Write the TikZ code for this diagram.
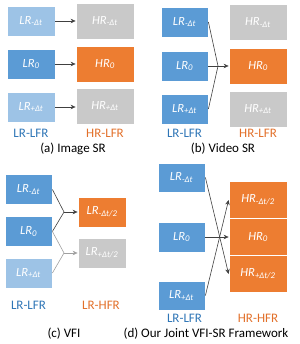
\documentclass[tikz,border=0pt]{standalone}
\usepackage{fontspec}
\setmainfont{Carlito}
\usepackage{tikz}
\usetikzlibrary{arrows.meta}
\definecolor{lrColor}{HTML}{5B9BD5}
\definecolor{lrLightColor}{HTML}{9DC3E6}
\definecolor{hrColor}{HTML}{ED7D31}
\definecolor{emptyColor}{HTML}{C9C9C9}
\definecolor{lineColor}{HTML}{404040}
\definecolor{lineLightColor}{HTML}{A0A0A0}
\definecolor{lfrTextColor}{HTML}{2E75B6}
\definecolor{hfrTextColor}{HTML}{E2702A}

\tikzset{
  frame/.style={rectangle, inner sep=0pt, draw=white, line width=0.8pt, text=white,
    font=\fontsize{12.5}{14}\selectfont\itshape},
  lrbox/.style={frame, minimum width=47pt, minimum height=30pt},
  hrbox/.style={frame, minimum width=58pt, minimum height=36pt},
  flow/.style={draw=lineColor, line width=0.6pt},
  flowarrow/.style={flow, -{Stealth[length=5pt,width=4.5pt]}},
  caption/.style={font=\fontsize{13}{15}\selectfont},
}

\begin{document}
\begin{tikzpicture}[x=1pt, y=-1pt]
  \useasboundingbox (0,0) rectangle (299,344);

  % (a) Image SR
  \node[lrbox, fill=lrLightColor, minimum width=48pt] (aLm) at (31,21) {LR\textsubscript{-Δt}};
  \node[lrbox, fill=lrColor, minimum width=48pt] (aLz) at (31,64) {LR\textsubscript{0}};
  \node[lrbox, fill=lrLightColor, minimum width=48pt] (aLp) at (31,107) {LR\textsubscript{+Δt}};
  \node[hrbox, fill=emptyColor] (aHm) at (105,21) {HR\textsubscript{-Δt}};
  \node[hrbox, fill=hrColor] (aHz) at (105,64) {HR\textsubscript{0}};
  \node[hrbox, fill=emptyColor] (aHp) at (105,106) {HR\textsubscript{+Δt}};
  \draw[flowarrow] (aLm) -- (aHm);
  \draw[flowarrow] (aLz) -- (aHz);
  \draw[flowarrow] (aLp.east) -- (aLp.east -| aHp.west);
  \node[caption, text=lfrTextColor] (aIn) at (31,133) {LR-LFR};
  \node[caption, text=hfrTextColor] (aOut) at (105,133) {HR-LFR};
  \node[caption] (aCap) at (73,149) {(a) Image SR};

  % (b) Video SR
  \node[lrbox, fill=lrColor] (bLm) at (184.5,22) {LR\textsubscript{-Δt}};
  \node[lrbox, fill=lrColor] (bLz) at (184.5,66) {LR\textsubscript{0}};
  \node[lrbox, fill=lrColor] (bLp) at (184.5,109) {LR\textsubscript{+Δt}};
  \node[hrbox, fill=emptyColor] (bHm) at (258,22.5) {HR\textsubscript{-Δt}};
  \node[hrbox, fill=hrColor] (bHz) at (258,66) {HR\textsubscript{0}};
  \node[hrbox, fill=emptyColor] (bHp) at (258,109) {HR\textsubscript{+Δt}};
  \coordinate (bJ) at (218,66);
  \draw[flow] (bLm.east) -- (bJ);
  \draw[flow] (bLp.east) -- (bJ);
  \draw[flowarrow] (bLz) -- (bHz);
  \node[caption, text=lfrTextColor] (bIn) at (184.5,133) {LR-LFR};
  \node[caption, text=hfrTextColor] (bOut) at (258,133) {HR-LFR};
  \node[caption] (bCap) at (223,149) {(b) Video SR};

  % (c) VFI
  \node[lrbox, fill=lrColor] (cLm) at (28.5,189.5) {LR\textsubscript{-Δt}};
  \node[lrbox, fill=lrColor] (cLz) at (28.5,231.5) {LR\textsubscript{0}};
  \node[lrbox, fill=lrLightColor] (cLp) at (28.5,273) {LR\textsubscript{+Δt}};
  \node[lrbox, fill=hrColor, minimum width=48pt] (cHm) at (102,212) {LR\textsubscript{-Δt/2}};
  \node[lrbox, fill=emptyColor, minimum width=48pt] (cHp) at (102,253) {LR\textsubscript{+Δt/2}};
  \coordinate (cJm) at (64,212);
  \coordinate (cJp) at (64,253);
  \draw[flow] (cLm.east) -- (cJm);
  \draw[flow] (cLz.east) -- (cJm);
  \draw[flowarrow] (cJm) -- (cHm);
  \draw[flow, draw=lineLightColor] (cLz.east) -- (cJp);
  \draw[flow, draw=lineLightColor] (cLp.east) -- (cJp);
  \draw[flowarrow, draw=lineLightColor] (cJp) -- (cHp);
  \node[caption, text=lfrTextColor] (cIn) at (28.5,305) {LR-LFR};
  \node[caption, text=hfrTextColor] (cOut) at (101,305) {LR-HFR};
  \node[caption] (cCap) at (64,334) {(c) VFI};

  % (d) Our Joint VFI-SR Framework
  \node[lrbox, fill=lrColor, minimum height=29pt] (dLm) at (181.5,177.5) {LR\textsubscript{-Δt}};
  \node[lrbox, fill=lrColor] (dLz) at (181.5,237) {LR\textsubscript{0}};
  \node[lrbox, fill=lrColor, minimum height=29pt] (dLp) at (181.5,295.5) {LR\textsubscript{+Δt}};
  \node[hrbox, fill=hrColor, minimum height=37pt] (dHm) at (258,200) {HR\textsubscript{-Δt/2}};
  \node[hrbox, fill=hrColor, minimum height=37pt] (dHz) at (258,237) {HR\textsubscript{0}};
  \node[hrbox, fill=hrColor, minimum height=37pt] (dHp) at (258,274) {HR\textsubscript{+Δt/2}};
  \draw[flowarrow] (dLm.east) -- (dHp.west);
  \draw[flowarrow] (dLp.east) -- (dHm.west);
  \draw[flowarrow] (dLz) -- (dHz);
  \node[caption, text=lfrTextColor] (dIn) at (184.5,318) {LR-LFR};
  \node[caption, text=hfrTextColor] (dOut) at (258,318) {HR-HFR};
  \node[caption] (dCap) at (206,334) {(d) Our Joint VFI-SR Framework};
\end{tikzpicture}
\end{document}
